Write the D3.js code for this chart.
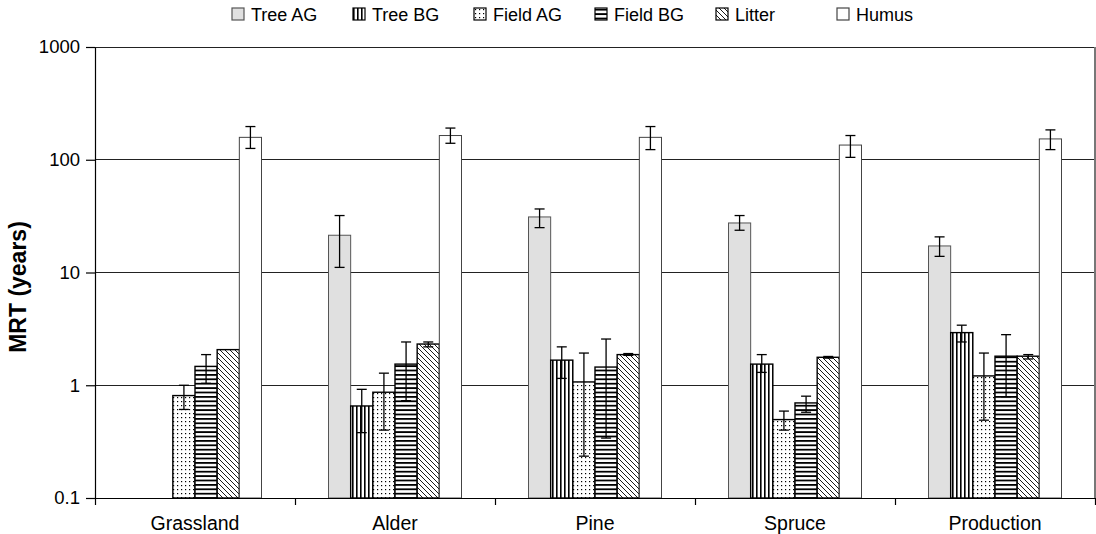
<!DOCTYPE html>
<html><head><meta charset="utf-8">
<script src="https://cdn.jsdelivr.net/npm/d3@7"></script>
<style>body{margin:0;background:#fff}svg{display:block}text{font-family:"Liberation Sans",Arial,sans-serif;fill:#000}</style>
</head><body><svg id="c" width="1096" height="534"></svg>
<script>
const categories = ["Grassland","Alder","Pine","Spruce","Production"];
const seriesNames = ["Tree AG","Tree BG","Field AG","Field BG","Litter","Humus"];
const treeAG   = [null, 21.4, 31.1, 27.5, 17.2];
const treeAGlo = [null, 11.1, 25.0, 23.7, 13.9];
const treeAGhi = [null, 32.0, 36.6, 32.0, 20.7];
const treeBG   = [null, 0.655, 1.67, 1.54, 2.93];
const treeBGlo = [null, 0.38, 1.15, 1.30, 2.42];
const treeBGhi = [null, 0.92, 2.19, 1.87, 3.41];
const fieldAG   = [0.81, 0.867, 1.07, 0.496, 1.21];
const fieldAGlo = [0.61, 0.40, 0.235, 0.40, 0.49];
const fieldAGhi = [1.00, 1.28, 1.93, 0.59, 1.93];
const fieldBG   = [1.47, 1.54, 1.45, 0.697, 1.81];
const fieldBGlo = [1.04, 0.73, 0.34, 0.576, 0.79];
const fieldBGhi = [1.87, 2.42, 2.57, 0.80, 2.81];
const litter   = [2.07, 2.32, 1.87, 1.77, 1.81];
const litterLo = [2.07, 2.19, 1.84, 1.74, 1.71];
const litterHi = [2.07, 2.42, 1.91, 1.80, 1.87];
const humus   = [158, 164, 158, 135, 153];
const humusLo = [126, 140, 123, 105, 123];
const humusHi = [197, 191, 197, 164, 184];
const yTicks = [0.1, 1, 10, 100, 1000];
const yTickLabels = ["0.1", "1", "10", "100", "1000"];
const yTitle = "MRT (years)";

const values = [treeAG, treeBG, fieldAG, fieldBG, litter, humus];
const lows = [treeAGlo, treeBGlo, fieldAGlo, fieldBGlo, litterLo, humusLo];
const highs = [treeAGhi, treeBGhi, fieldAGhi, fieldBGhi, litterHi, humusHi];

const svg = d3.select("#c");
const L = 95, R = 1095, T = 47, B = 498;

const defs = svg.append("defs");
function pat(id, w, h, draw){
  const p = defs.append("pattern").attr("id", id).attr("patternUnits","userSpaceOnUse")
    .attr("width", w).attr("height", h);
  p.append("rect").attr("width", w).attr("height", h).attr("fill", "#fff");
  draw(p);
}
pat("pTreeBG", 4, 4, p => p.append("rect").attr("x",0).attr("y",0).attr("width",1.6).attr("height",4).attr("fill","#000"));
pat("pFieldAG", 4, 4, p => p.append("rect").attr("x",1).attr("y",1).attr("width",1.2).attr("height",1.2).attr("fill","#000"));
pat("pFieldBG", 4.4, 4.4, p => p.append("rect").attr("x",0).attr("y",0).attr("width",4.4).attr("height",1.8).attr("fill","#000"));
pat("pLitter", 5, 5, p => {
  p.append("path").attr("d","M-1,-1 L6,6 M-1,4 L1,6 M4,-1 L6,1").attr("stroke","#000").attr("stroke-width",0.9);
});
const fills = ["#e0e0e0","url(#pTreeBG)","url(#pFieldAG)","url(#pFieldBG)","url(#pLitter)","#ffffff"];
const strokes = ["#555","#000","#000","#000","#000","#444"];

const y = d3.scaleLog().domain([0.1, 1000]).range([B, T]);
const x0 = d3.scaleBand().domain(categories).range([L, R]).paddingInner(0).paddingOuter(0);
const groupW = 133;
const x1 = d3.scaleBand().domain(seriesNames).range([(x0.bandwidth()-groupW)/2, (x0.bandwidth()+groupW)/2]).padding(0);

// gridlines
svg.append("g").selectAll("line").data(yTicks.slice(1)).join("line")
  .attr("x1", L).attr("x2", R).attr("y1", d => y(d)).attr("y2", d => y(d))
  .attr("stroke", "#222").attr("stroke-width", 1).attr("shape-rendering","crispEdges");

// right border
svg.append("line").attr("x1", R).attr("x2", R).attr("y1", T).attr("y2", B)
  .attr("stroke", "#777").attr("stroke-width", 2);

// bars
const bars = [];
categories.forEach((c, ci) => seriesNames.forEach((s, si) => {
  const v = values[si][ci];
  if (v != null) bars.push({c, s, si, v, lo: lows[si][ci], hi: highs[si][ci]});
}));
const g = svg.append("g");
g.selectAll("rect").data(bars).join("rect")
  .attr("x", d => x0(d.c) + x1(d.s))
  .attr("width", x1.bandwidth())
  .attr("y", d => y(d.v))
  .attr("height", d => B - y(d.v))
  .attr("fill", d => fills[d.si])
  .attr("stroke", d => strokes[d.si])
  .attr("stroke-width", d => (d.si === 0 || d.si === 5) ? 1 : 1.4);

// error bars
const eb = svg.append("g").attr("stroke", "#000").attr("stroke-width", 1.3);
bars.filter(d => d.hi > d.lo).forEach(d => {
  const cx = x0(d.c) + x1(d.s) + x1.bandwidth()/2;
  eb.append("line").attr("x1", cx).attr("x2", cx).attr("y1", y(d.hi)).attr("y2", y(d.lo));
  eb.append("line").attr("x1", cx-5).attr("x2", cx+5).attr("y1", y(d.hi)).attr("y2", y(d.hi));
  eb.append("line").attr("x1", cx-5).attr("x2", cx+5).attr("y1", y(d.lo)).attr("y2", y(d.lo));
});

// y axis
const yAxis = d3.axisLeft(y).tickValues(yTicks).tickFormat((d,i) => yTickLabels[i]).tickSize(9).tickSizeOuter(0).tickPadding(6);
const ya = svg.append("g").attr("transform", `translate(${L},0)`).call(yAxis);
ya.selectAll("path, line").attr("stroke", "#000").attr("stroke-width", 1.2);
ya.selectAll("text").style("font-size", "18.5px").attr("font-family", "Liberation Sans, Arial, sans-serif");

// x axis
const xs = d3.scaleLinear().domain([0, categories.length]).range([L, R]);
const xa = svg.append("g").attr("transform", `translate(0,${B})`)
  .call(d3.axisBottom(xs).ticks(categories.length).tickFormat("").tickSize(7).tickSizeOuter(0));
xa.selectAll("path, line").attr("stroke", "#000").attr("stroke-width", 1.2);
const xl = svg.append("g").attr("transform", `translate(0,${B})`)
  .call(d3.axisBottom(x0).tickSize(0).tickPadding(18));
xl.select(".domain").remove();
xl.selectAll("text").style("font-size", "19.5px").attr("font-family", "Liberation Sans, Arial, sans-serif");

// y title
svg.append("text").attr("transform", "translate(26,287) rotate(-90)")
  .attr("text-anchor", "middle").style("font-size", "23px").style("font-weight", "bold").text(yTitle);

// legend (equal-width slots)
const legendX = d3.scaleBand().domain(seriesNames).range([232, 232 + 121 * seriesNames.length]);
const items = svg.append("g").selectAll("g").data(seriesNames).join("g")
  .attr("transform", d => `translate(${legendX(d)},0)`);
items.append("rect").attr("width", 12).attr("height", 12).attr("y", 8)
  .attr("fill", (d,i) => fills[i]).attr("stroke", (d,i) => strokes[i]).attr("stroke-width", 1.2);
items.append("text").attr("x", 19).attr("y", 20.5).style("font-size", "18px").text(d => d);
</script></body></html>
